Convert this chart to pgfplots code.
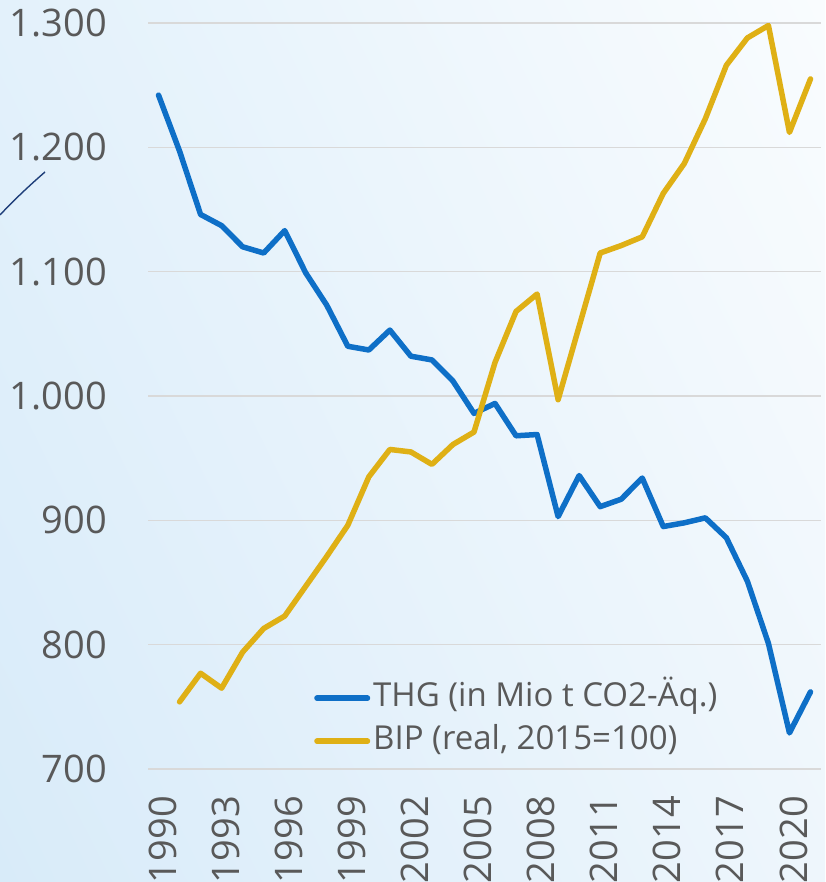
\documentclass[border=0pt]{standalone}
\usepackage{fontspec}
\setmainfont{Open Sans}
\usepackage{pgfplots}
\pgfplotsset{compat=1.18}
\usetikzlibrary{shadings}
\definecolor{thg}{HTML}{0E6FC7}
\definecolor{bip}{HTML}{DFB015}
\definecolor{txtgray}{HTML}{595959}
\definecolor{gridgray}{HTML}{D9D9D9}
\definecolor{bgUL}{HTML}{E3F1FB}
\definecolor{bgUR}{HTML}{F9FCFE}
\definecolor{bgLL}{HTML}{D8EBF9}
\definecolor{bgLR}{HTML}{EEF6FC}
\definecolor{deco}{HTML}{1F3F7A}
\begin{document}
\begin{tikzpicture}[x=1pt,y=1pt]
\clip (0,0) rectangle (825,882);
\shade[upper left=bgUL, upper right=bgUR, lower left=bgLL, lower right=bgLR] (0,0) rectangle (825,882);
\draw[deco, line width=1.4pt] (0,667) .. controls (14,682) and (30,697) .. (45,710);
\begin{axis}[
  at={(148pt,113pt)}, anchor=south west,
  scale only axis, width=673pt, height=746pt,
  xmin=1989.5, xmax=2021.5, ymin=700, ymax=1300,
  clip=false,
  axis line style={draw=none},
  major tick length=0pt,
  xtick={1990,1993,...,2020},
  ytick={700,800,...,1300},
  ymajorgrids,
  grid style={color=gridgray, line width=1.6pt},
  /pgf/number format/assume math mode=true,
  tick label style={font=\fontsize{38}{38}\selectfont, text=txtgray, inner sep=0pt},
  yticklabel style={/pgf/number format/1000 sep={.}, anchor=east, xshift=-41pt},
  xticklabel style={/pgf/number format/1000 sep={}, rotate=90, anchor=east, xshift=-27pt, yshift=-4pt},
  legend style={at={(0.2467,0.1166)}, anchor=north west, draw=none, fill=none,
    font=\fontsize{33}{33}\selectfont, text=txtgray, inner sep=0pt,
    nodes={inner sep=0pt, text height=24pt, text depth=8pt},
    row sep=11pt, column sep=3pt},
  legend cell align=left,
  legend image code/.code={\draw[#1, line cap=round, line width=5.5pt] (2.75pt,0pt) -- (53.25pt,0pt);},
]
\addplot[thg, line width=5.5pt, line join=round, line cap=round] coordinates {
(1990,1242) (1991,1197) (1992,1146) (1993,1137) (1994,1120) (1995,1115)
(1996,1133) (1997,1099) (1998,1073) (1999,1040) (2000,1037) (2001,1053)
(2002,1032) (2003,1029) (2004,1012) (2005,986) (2006,994) (2007,968)
(2008,969) (2009,903) (2010,936) (2011,911) (2012,917) (2013,934)
(2014,895) (2015,898) (2016,902) (2017,886) (2018,851) (2019,801)
(2020,729) (2021,762)};
\addlegendentry{THG (in Mio t CO2-Äq.)}
\addplot[bip, line width=5.5pt, line join=round, line cap=round] coordinates {
(1991,754) (1992,777) (1993,765) (1994,794) (1995,813) (1996,823)
(1997,847) (1998,871) (1999,896) (2000,935) (2001,957) (2002,955)
(2003,945) (2004,961) (2005,971) (2006,1027) (2007,1068) (2008,1082)
(2009,997) (2010,1056) (2011,1115) (2012,1121) (2013,1128) (2014,1163)
(2015,1187) (2016,1223) (2017,1266) (2018,1288) (2019,1298) (2020,1212)
(2021,1255)};
\addlegendentry{BIP (real, 2015=100)}
\end{axis}
\end{tikzpicture}
\end{document}
